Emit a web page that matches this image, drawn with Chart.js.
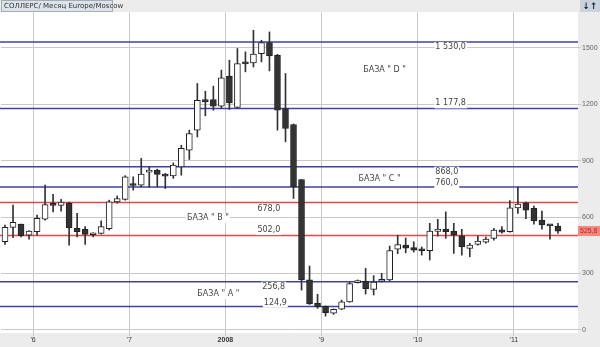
<!DOCTYPE html>
<html>
<head>
<meta charset="utf-8">
<script src="https://cdn.jsdelivr.net/npm/chart.js@4"></script>
<style>
  html, body { margin: 0; padding: 0; background: #ececec; }
  canvas { display: block; }
</style>
</head>
<body>
<canvas id="chart" width="600" height="347"></canvas>
<script>
// monthly categories Sep 2005 .. Aug 2011
const months = [];
for (let k = 0; k < 72; k++) {
  const m = ((8 + k) % 12) + 1;
  const y = 2005 + Math.floor((8 + k) / 12);
  months.push(y + "-" + String(m).padStart(2, "0"));
}

const opens = [469, 545, 563, 504, 522, 589, 667, 662, 673, 540, 535, 506, 513, 539, 681, 694, 772, 770, 839, 850,
  822, 819, 867, 956, 1062, 1218, 1225, 1189, 1349, 1183, 1420, 1419, 1469, 1528, 1460, 1177, 1092, 800, 266, 142,
  126, 89, 110, 149, 251, 259, 216, 259, 266, 429, 451, 438, 424, 421, 524, 536, 526, 500, 434, 455,
  467, 487, 532, 522, 649, 676, 646, 584, 556, 552];
const highs = [558, 664, 563, 528, 611, 770, 721, 694, 680, 620, 549, 517, 580, 690, 712, 820, 814, 912, 867, 855,
  832, 888, 982, 1062, 1310, 1269, 1296, 1381, 1434, 1496, 1478, 1593, 1540, 1584, 1465, 1363, 1095, 800, 340, 190,
  128, 112, 159, 253, 266, 328, 289, 301, 446, 504, 489, 469, 441, 567, 588, 628, 567, 535, 461, 499,
  494, 540, 549, 688, 759, 680, 658, 632, 558, 567];
const lows = [455, 490, 495, 483, 504, 584, 628, 632, 451, 495, 455, 495, 510, 531, 674, 690, 743, 761, 759, 761,
  752, 806, 823, 906, 1026, 1138, 1168, 1177, 1172, 1177, 1372, 1398, 1425, 1377, 1062, 1000, 699, 212, 136, 115,
  74, 83, 108, 147, 249, 191, 186, 255, 262, 406, 410, 414, 398, 372, 499, 487, 407, 398, 389, 451,
  462, 478, 515, 520, 620, 592, 563, 536, 483, 513];
const closes = [545, 572, 501, 526, 593, 667, 662, 680, 543, 522, 508, 513, 549, 681, 699, 814, 768, 828, 850, 827,
  818, 876, 965, 1044, 1221, 1214, 1189, 1340, 1207, 1416, 1414, 1466, 1528, 1457, 1168, 1071, 761, 266, 138, 124,
  92, 110, 149, 247, 262, 220, 255, 269, 422, 454, 435, 424, 421, 526, 536, 522, 504, 442, 451, 473,
  483, 531, 520, 649, 669, 637, 580, 558, 553, 525.8];

const yTicks = [0, 300, 600, 900, 1200, 1500];
const tickMonths = ["2006-01", "2007-01", "2008-01", "2009-01", "2010-01", "2011-01"];
const tickLabels = ["'6", "'7", "2008", "'9", "'10", "'11"];

const levelValues = [1530, 1177.8, 868, 760, 678, 502, 256.8, 124.9];
const levelLabels = ["1 530,0", "1 177,8", "868,0", "760,0", "678,0", "502,0", "256,8", "124,9"];
const levelKinds = ["b", "b", "b", "b", "r", "r", "b", "b"];

const baseLabels = ['БАЗА " D "', 'БАЗА " C "', 'БАЗА " B "', 'БАЗА " A "'];
const baseValues = [1381, 802, 595, 191];

// label placement (category index, pixel shift from line)
const levelLabelAt = [53.7, 53.7, 53.7, 53.7, 31.5, 31.5, 32.1, 32.3];
const levelLabelDy = [5, -5, 5, -4, 7, -5.5, 5, -4];
const baseLabelAt = [44.7, 44.1, 22.7, 24.0];

const BLUE = "#4040a6";
const RED = "#e04a4a";
const GRID = "#c8c8c8";
const FONT = "DejaVu Sans";

const bgPlugin = {
  id: "bg",
  beforeDraw(chart) {
    const c = chart.ctx;
    const a = chart.chartArea;
    c.save();
    c.fillStyle = "#ececec";
    c.fillRect(0, 0, chart.width, chart.height);
    c.fillStyle = "#ffffff";
    c.fillRect(0, a.top, a.right, a.bottom - a.top);
    c.restore();
  }
};

function labelBox(c, text, x, y) {
  const w = c.measureText(text).width;
  c.fillStyle = "#ffffff";
  c.fillRect(x - 1, y - 5, w + 2, 10);
  c.fillStyle = "#444";
  c.fillText(text, x, y);
}

const levelsPlugin = {
  id: "levels",
  beforeDatasetsDraw(chart) {
    const c = chart.ctx;
    const a = chart.chartArea;
    const ys = chart.scales.y;
    const xs = chart.scales.x;
    c.save();
    c.lineWidth = 1.5;
    levelValues.forEach((v, i) => {
      const y = ys.getPixelForValue(v);
      c.strokeStyle = levelKinds[i] === "r" ? RED : BLUE;
      c.beginPath();
      c.moveTo(0, y);
      c.lineTo(a.right, y);
      c.stroke();
    });
    c.font = "8px '" + FONT + "'";
    c.textBaseline = "middle";
    c.textAlign = "left";
    levelValues.forEach((v, i) => {
      const y = ys.getPixelForValue(v) + levelLabelDy[i];
      labelBox(c, levelLabels[i], xs.getPixelForValue(levelLabelAt[i]), y);
    });
    baseLabels.forEach((t, i) => {
      labelBox(c, t, xs.getPixelForValue(baseLabelAt[i]), ys.getPixelForValue(baseValues[i]));
    });
    c.restore();
  }
};

const overlayPlugin = {
  id: "overlay",
  afterDraw(chart) {
    const c = chart.ctx;
    const ys = chart.scales.y;
    c.save();
    // title tab
    c.fillStyle = "#dce3ea";
    c.fillRect(1, 0, 112, 12);
    c.strokeStyle = "#a4acb4";
    c.lineWidth = 1;
    c.strokeRect(1.5, 0.5, 111, 11);
    c.fillStyle = "#333";
    c.font = "7px '" + FONT + "'";
    c.textBaseline = "middle";
    c.fillText("СОЛЛЕРС/ Месяц Europe/Moscow", 4, 6.5);
    // sort icon
    c.fillStyle = "#c9d3de";
    c.fillRect(580, 0, 20, 12);
    c.fillStyle = "#223";
    c.font = "bold 9px '" + FONT + "'";
    c.textAlign = "center";
    c.fillText("↓↑", 590, 6.5);
    // last value marker
    const last = closes[closes.length - 1];
    const y = ys.getPixelForValue(last);
    c.fillStyle = "#f08a7e";
    c.fillRect(578, y - 5, 22, 10);
    c.fillStyle = "#b02a22";
    c.font = "7px 'Liberation Sans'";
    c.textAlign = "left";
    c.fillText(String(last).replace(".", ","), 580, y + 0.5);
    c.restore();
  }
};

const bodyColors = opens.map((o, i) => (closes[i] >= o ? "#ffffff" : "#333333"));

new Chart(document.getElementById("chart").getContext("2d"), {
  type: "bar",
  data: {
    labels: months,
    datasets: [
      {
        label: "wick",
        data: lows.map((l, i) => [l, highs[i]]),
        backgroundColor: "#333333",
        barThickness: 1,
        grouped: false,
        order: 2,
      },
      {
        label: "body",
        data: opens.map((o, i) => [o, closes[i]]),
        backgroundColor: bodyColors,
        borderColor: "#222222",
        borderWidth: 1,
        borderSkipped: false,
        barThickness: 6,
        minBarLength: 2,
        grouped: false,
        order: 1,
      },
    ],
  },
  options: {
    responsive: false,
    animation: false,
    layout: { padding: { left: 1, top: 12, right: 0, bottom: 0 } },
    plugins: {
      legend: { display: false },
      tooltip: { enabled: false },
    },
    scales: {
      x: {
        offset: true,
        grid: {
          offset: true,
          tickLength: 3,
          color: (ctx) => (tickMonths.includes(months[ctx.index]) ? GRID : "rgba(0,0,0,0)"),
        },
        border: { display: false },
        ticks: {
          autoSkip: false,
          maxRotation: 0,
          padding: 0,
          labelOffset: -4,
          color: "#333",
          font: (ctx) => ({
            family: "Liberation Sans",
            size: 7,
            weight: months[ctx.index] === "2008-01" ? "bold" : "normal",
          }),
          callback: (v, i) => {
            const k = tickMonths.indexOf(months[i]);
            return k >= 0 ? tickLabels[k] : "";
          },
        },
        afterFit: (s) => { s.height = 14; },
      },
      y: {
        position: "right",
        min: -16,
        max: 1690,
        afterBuildTicks: (s) => { s.ticks = yTicks.map((v) => ({ value: v })); },
        grid: { color: GRID, tickLength: 3 },
        border: { display: false },
        ticks: {
          padding: 1,
          color: "#666",
          font: { family: "Liberation Sans", size: 7 },
          callback: (v) => String(v),
        },
        afterFit: (s) => { s.width = 22; },
      },
    },
  },
  plugins: [bgPlugin, levelsPlugin, overlayPlugin],
});
</script>
</body>
</html>
